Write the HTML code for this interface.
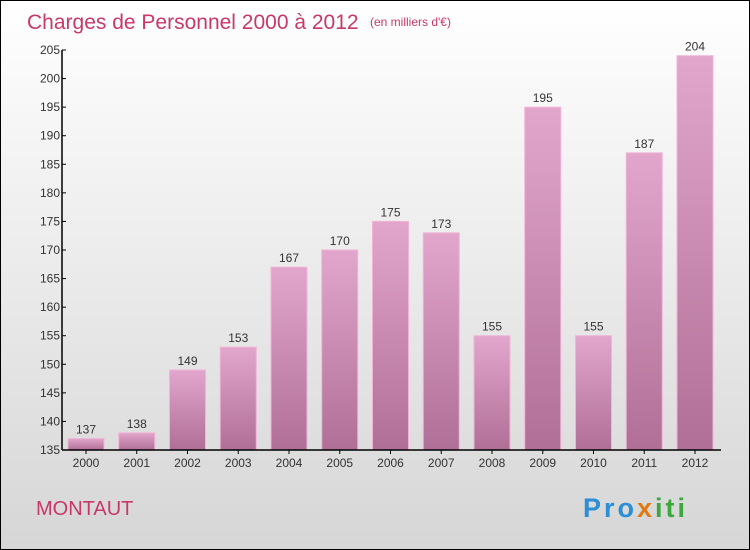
<!DOCTYPE html>
<html><head><meta charset="utf-8"><style>
body{margin:0}
#c{position:relative;width:748px;height:548px;border:1px solid #000;background:linear-gradient(#ffffff,#d6d6d6);font-family:"Liberation Sans",sans-serif;overflow:hidden}
</style></head><body>
<div id="c">
<svg width="748" height="548" style="position:absolute;left:0;top:0" id="s">
<defs><linearGradient id="g" x1="0" y1="0" x2="0" y2="1"><stop offset="0" stop-color="#e2a6cc"/><stop offset="1" stop-color="#b06f96"/></linearGradient></defs>
<text x="26" y="28" font-size="21" fill="#c8386a">Charges de Personnel 2000 à 2012</text>
<text x="369" y="25" font-size="12" fill="#c8386a">(en milliers d'€)</text>
<text x="35" y="514" font-size="20" fill="#c8386a">MONTAUT</text>
<text x="582" y="516" font-size="27" font-weight="bold" letter-spacing="3"><tspan fill="#2a8fd6">Pro</tspan><tspan fill="#e07a10">x</tspan><tspan fill="#3aa83a">iti</tspan></text>
<g id="plot"></g>
</svg>
</div>
<script>
const years=["2000","2001","2002","2003","2004","2005","2006","2007","2008","2009","2010","2011","2012"];
const values=[137,138,149,153,167,170,175,173,155,195,155,187,204];
const yTicks=[135,140,145,150,155,160,165,170,175,180,185,190,195,200,205];
const ns="http://www.w3.org/2000/svg";
const g=document.getElementById('plot');
const x0=61,yb=449,yMin=135,yMax=205,yt=49;
const y=v=>yb-(v-yMin)/(yMax-yMin)*(yb-yt);
const xc=i=>85+i*50.75;
function mk(t,a){const e=document.createElementNS(ns,t);for(const k in a)e.setAttribute(k,a[k]);g.appendChild(e);return e;}
values.forEach((v,i)=>{
 const r=mk('rect',{x:xc(i)-18,y:y(v),width:36,height:yb-y(v),fill:'url(#g)',stroke:'#f0b4d6','stroke-width':1});
 
 
 const t=mk('text',{x:xc(i),y:y(v)-5,'font-size':12,'text-anchor':'middle',fill:'#333'});t.textContent=v;
 
 
 const l=mk('text',{x:xc(i),y:466,'font-size':12,'text-anchor':'middle',fill:'#333'});l.textContent=years[i];
 
 
 mk('line',{x1:xc(i),x2:xc(i),y1:yb,y2:yb+4,stroke:'#000'});
});
yTicks.forEach(v=>{
 mk('line',{x1:x0,x2:x0+4,y1:y(v),y2:y(v),stroke:'#000'});
 const t=mk('text',{x:x0-2,y:y(v)+4,'font-size':12,'text-anchor':'end',fill:'#333'});t.textContent=v;
 
 
});
const ya=mk('line',{x1:x0,x2:x0,y1:yt,y2:yb,stroke:'#000','stroke-width':1.5});


const xa=mk('line',{x1:x0,x2:720,y1:yb,y2:yb,stroke:'#000','stroke-width':1.5});


</script>
</body></html>
